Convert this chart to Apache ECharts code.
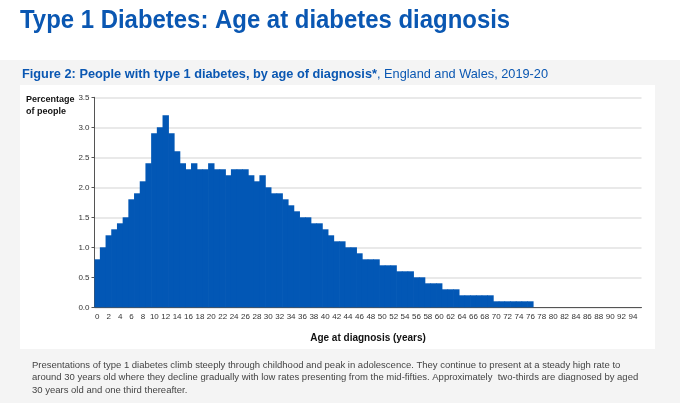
<!DOCTYPE html>
<html>
<head>
<meta charset="utf-8">
<script src="https://cdn.jsdelivr.net/npm/echarts@6/dist/echarts.min.js"></script>
<style>
html,body{margin:0;padding:0;background:#fff;}
#chart{width:680px;height:403px;}
</style>
</head>
<body>
<div id="chart"></div>
<script>
// Ages at diagnosis (years), 0..95
const ages = [];
for (let a = 0; a <= 95; a++) ages.push(String(a));

// Percentage of people diagnosed at each age
const percentages = [
  0.8, 1.0, 1.2, 1.3, 1.4, 1.5, 1.8, 1.9, 2.1, 2.4,
  2.9, 3.0, 3.2, 2.9, 2.6, 2.4, 2.3, 2.4, 2.3, 2.3,
  2.4, 2.3, 2.3, 2.2, 2.3, 2.3, 2.3, 2.2, 2.1, 2.2,
  2.0, 1.9, 1.9, 1.8, 1.7, 1.6, 1.5, 1.5, 1.4, 1.4,
  1.3, 1.2, 1.1, 1.1, 1.0, 1.0, 0.9, 0.8, 0.8, 0.8,
  0.7, 0.7, 0.7, 0.6, 0.6, 0.6, 0.5, 0.5, 0.4, 0.4,
  0.4, 0.3, 0.3, 0.3, 0.2, 0.2, 0.2, 0.2, 0.2, 0.2,
  0.1, 0.1, 0.1, 0.1, 0.1, 0.1, 0.1, 0, 0, 0,
  0, 0, 0, 0, 0, 0, 0, 0, 0, 0,
  0, 0, 0, 0, 0, 0
];

const yTicks = { min: 0, max: 3.5, interval: 0.5 };

const mainTitle = 'Type 1 Diabetes: Age at diabetes diagnosis';
const figureBold = 'Figure 2: People with type 1 diabetes, by age of diagnosis*';
const figureRest = ', England and Wales, 2019-20';
const yAxisTitle = 'Percentage\nof people';
const xAxisTitle = 'Age at diagnosis (years)';
const captionLines = [
  'Presentations of type 1 diabetes climb steeply through childhood and peak in adolescence. They continue to present at a steady high rate to',
  'around 30 years old where they decline gradually with low rates presenting from the mid-fifties. Approximately  two-thirds are diagnosed by aged',
  '30 years old and one third thereafter.'
];

const BLUE = '#0a57b2';
const BAR = '#0257b5';
const FONT = '"Liberation Sans", Arial, sans-serif';

const chart = echarts.init(document.getElementById('chart'), null, { renderer: 'canvas' });
chart.setOption({
  backgroundColor: '#ffffff',
  animation: false,
  textStyle: { fontFamily: FONT },
  graphic: [
    { type: 'rect', z: -10, silent: true, shape: { x: 0, y: 60, width: 680, height: 343 }, style: { fill: '#f4f4f4' } },
    { type: 'rect', z: -9, silent: true, shape: { x: 20, y: 85, width: 635, height: 264 }, style: { fill: '#ffffff' } },
    { type: 'text', x: 20, y: 9, scaleX: 0.957, style: { text: mainTitle, font: 'bold 25px ' + FONT, fill: BLUE } },
    { type: 'text', left: 26, top: 94, style: { text: yAxisTitle, font: 'bold 9px ' + FONT, fill: '#111', lineHeight: 12 } },
    { type: 'text', x: 32, y: 359, style: { text: captionLines.join('\n'), font: '9.5px ' + FONT, fill: '#444', lineHeight: 12.5 } }
  ],
  title: [
    {
      text: '{b|' + figureBold + '}{r|' + figureRest + '}',
      left: 22, top: 68, padding: 0,
      textStyle: {
        rich: {
          b: { color: BLUE, fontSize: 12.75, fontWeight: 'bold', fontFamily: FONT },
          r: { color: BLUE, fontSize: 12.75, fontWeight: 'normal', fontFamily: FONT }
        }
      }
    }
  ],
  grid: { left: 94.5, right: 38.5, top: 97.3, bottom: 95.7 },
  xAxis: {
    type: 'category',
    data: ages,
    name: xAxisTitle,
    nameLocation: 'middle',
    nameGap: 26,
    nameTextStyle: { fontSize: 10, fontWeight: 'bold', color: '#111' },
    axisLine: { lineStyle: { color: '#555', width: 1 } },
    axisTick: { interval: 0, length: 3, lineStyle: { color: '#555' } },
    axisLabel: { interval: 1, fontSize: 8, color: '#333', margin: 5 }
  },
  yAxis: {
    type: 'value',
    min: yTicks.min, max: yTicks.max, interval: yTicks.interval,
    axisLine: { show: true, lineStyle: { color: '#555' } },
    axisTick: { show: true, length: 3, lineStyle: { color: '#555' } },
    axisLabel: { fontSize: 8, color: '#333', margin: 5, formatter: v => v.toFixed(1) },
    splitLine: { lineStyle: { color: '#e2e2e2', width: 1.5 } }
  },
  series: [{
    type: 'bar',
    data: percentages,
    barWidth: '112%',
    itemStyle: { color: BAR, borderWidth: 0 }
  }]
});
</script>
</body>
</html>
